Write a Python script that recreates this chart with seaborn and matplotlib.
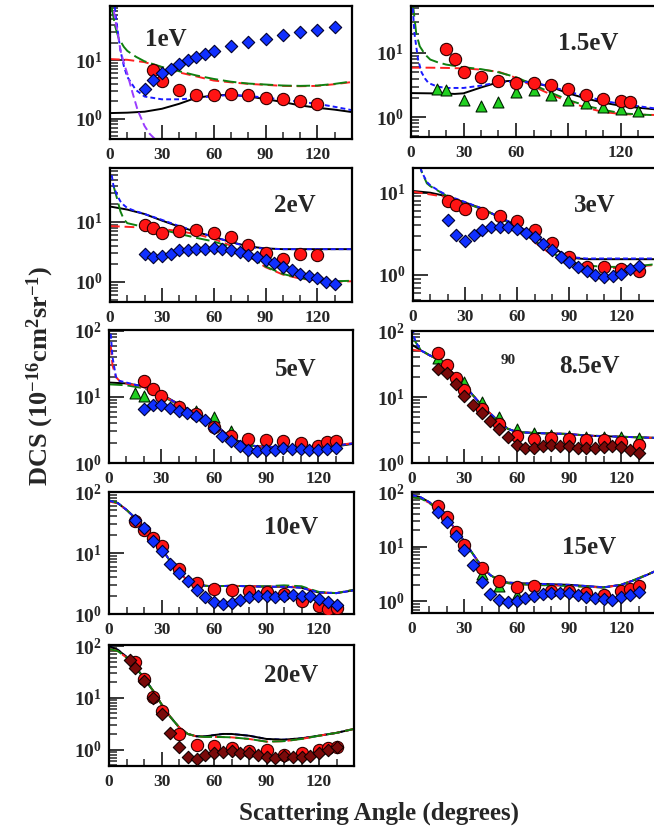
import numpy as np
import pandas as pd
import matplotlib
matplotlib.use("Agg")
import matplotlib.pyplot as plt
import seaborn as sns
from matplotlib.ticker import LogLocator, FixedLocator, MultipleLocator, FuncFormatter, NullFormatter

# ---------------- data (degrees, 1e-16 cm^2 sr^-1) ----------------
# 1 eV
e1_circ_x = [25, 30, 40, 50, 60, 70, 80, 90, 100, 110, 120]
e1_circ_y = [6.9, 4.4, 3.06, 2.58, 2.51, 2.68, 2.51, 2.29, 2.14, 2.01, 1.81]
e1_dia_x = [20, 25, 30, 35, 40, 45, 50, 55, 60, 70, 80, 90, 100, 110, 120, 130]
e1_dia_y = [3.27, 4.54, 6.06, 7.2, 8.77, 10.0, 11.4, 13.0, 14.5, 17.4, 20.6, 23.5, 26.8, 30.2, 33.6, 37.3]
e1_black_x = [0, 10, 20, 30, 40, 50, 60, 70, 80, 90, 100, 110, 120, 130, 140]
e1_black_y = [1.25, 1.27, 1.32, 1.48, 1.8, 2.29, 2.5, 2.58, 2.4, 2.17, 1.93, 1.69, 1.54, 1.43, 1.3]
e1_blue_x = [2, 3, 4, 6, 8, 10, 15, 20, 30, 40, 50, 60, 70, 80, 90, 100, 110, 120, 130, 140]
e1_blue_y = [150, 70, 40, 15, 8, 5.2, 3.1, 2.4, 2.15, 2.15, 2.25, 2.45, 2.55, 2.45, 2.3, 2.12, 1.95, 1.8, 1.6, 1.4]
e1_red_x = [0, 10, 20, 30, 40, 50, 60, 70, 80, 90, 100, 110, 120, 130, 140]
e1_red_y = [10.5, 10.2, 9.3, 7.6, 6.2, 5.3, 4.5, 4.2, 3.95, 3.8, 3.65, 3.6, 3.65, 3.9, 4.25]
e1_green_x = [1, 2, 3, 5, 8, 10, 15, 20, 30, 40, 50, 60, 70, 80, 90, 100, 110, 120, 130, 140]
e1_green_y = [80, 55, 38, 24, 17, 14.5, 11.5, 9.6, 7.7, 6.5, 5.5, 4.8, 4.3, 4.0, 3.85, 3.7, 3.65, 3.7, 3.95, 4.35]
e1_purple_x = [1, 2, 3, 4.5, 6, 8, 10, 13, 16, 20, 23, 27]
e1_purple_y = [200, 80, 50, 29, 15, 9, 5.9, 2.8, 1.4, 0.75, 0.55, 0.42]

# 1.5 eV
e15_circ_x = [20, 25, 30, 40, 50, 60, 70, 80, 90, 100, 110, 120, 125]
e15_circ_y = [11.7, 8.06, 5.05, 4.17, 3.7, 3.4, 3.4, 3.12, 2.74, 2.18, 1.91, 1.8, 1.71]
e15_tri_x = [15, 20, 30, 40, 50, 60, 70, 80, 90, 100, 110, 120, 130]
e15_tri_y = [2.74, 2.61, 1.87, 1.5, 1.74, 2.43, 2.61, 2.18, 1.87, 1.65, 1.43, 1.35, 1.23]
e15_black_x = [0, 10, 20, 25, 30, 40, 50, 55, 60, 65, 70, 80, 90, 100, 110, 120, 130, 140]
e15_black_y = [2.37, 2.35, 2.33, 2.3, 2.35, 2.9, 3.5, 3.65, 3.7, 3.6, 3.45, 2.95, 2.35, 1.95, 1.68, 1.5, 1.4, 1.32]
e15_blue_x = [1, 2, 4, 6, 8, 10, 15, 20, 30, 40, 50, 60, 70, 80, 90, 100, 110, 120, 130, 140]
e15_blue_y = [50, 20, 8, 5, 4, 3.4, 3.0, 2.85, 2.85, 3.1, 3.5, 3.6, 3.45, 3.0, 2.5, 2.1, 1.8, 1.6, 1.48, 1.36]
e15_red_x = [0, 10, 20, 30, 40, 50, 60, 70, 80, 90, 100, 110, 120, 130, 140]
e15_red_y = [5.9, 5.9, 5.85, 5.75, 5.5, 5.1, 4.1, 3.0, 2.25, 1.75, 1.4, 1.2, 1.12, 1.09, 1.08]
e15_green_x = [1, 2, 3, 5, 8, 11, 15, 20, 30, 40, 50, 60, 70, 80, 90, 100, 110, 120, 130, 140]
e15_green_y = [60, 35, 20, 12.7, 9.5, 7.9, 7.2, 6.6, 6.0, 5.6, 5.0, 4.2, 3.2, 2.4, 1.85, 1.5, 1.3, 1.15, 1.1, 1.07]

# 2 eV
e2_circ_x = [20, 25, 30, 40, 50, 60, 70, 80, 90, 100, 110, 120]
e2_circ_y = [9.0, 7.8, 6.6, 7.1, 7.2, 6.6, 5.5, 4.1, 3.0, 2.4, 2.9, 2.75]
e2_dia_x = [20, 25, 30, 35, 40, 45, 50, 55, 60, 65, 70, 75, 80, 85, 90, 95, 100, 105, 110, 115, 120, 125, 130]
e2_dia_y = [2.93, 2.58, 2.71, 2.93, 3.33, 3.41, 3.5, 3.5, 3.64, 3.55, 3.41, 3.08, 2.82, 2.58, 2.33, 2.05, 1.76, 1.59, 1.36, 1.23, 1.15, 1.01, 0.93]
e2_black_x = [0, 10, 20, 30, 40, 50, 60, 70, 80, 90, 100, 120, 140]
e2_black_y = [18, 16, 13.5, 10.5, 8.3, 6.8, 5.6, 4.6, 3.9, 3.6, 3.5, 3.5, 3.5]
e2_blue_x = [1, 2, 4, 6, 8, 10, 15, 20, 30, 40, 50, 60, 70, 80, 90, 100, 120, 140]
e2_blue_y = [60, 40, 28, 22, 19, 17, 15, 13.5, 10.8, 8.5, 6.9, 5.6, 4.6, 3.8, 3.55, 3.5, 3.5, 3.5]
e2_red_x = [0, 20, 30, 40, 50, 60, 70, 80, 90, 100, 110, 120, 130, 140]
e2_red_y = [8.5, 8.0, 7.6, 7.0, 6.2, 5.2, 4.0, 2.7, 1.75, 1.32, 1.13, 1.05, 1.0, 1.02]
e2_green_x = [2, 4, 6, 8, 10, 15, 20, 30, 40, 50, 60, 70, 80, 90, 100, 110, 120, 130, 140]
e2_green_y = [40, 25, 15, 11, 9.5, 8.8, 8.3, 7.4, 6.3, 5.4, 4.7, 3.8, 2.7, 1.8, 1.35, 1.15, 1.05, 1.02, 1.04]

# 3 eV
e3_circ_x = [20, 25, 30, 40, 50, 60, 70, 80, 90, 100, 110, 120, 130]
e3_circ_y = [7.84, 7.14, 6.38, 5.65, 5.24, 4.56, 3.47, 2.43, 1.63, 1.24, 1.24, 1.17, 1.12]
e3_dia_x = [20, 25, 30, 35, 40, 45, 50, 55, 60, 65, 70, 75, 80, 85, 90, 95, 100, 105, 110, 115, 120, 125, 130]
e3_dia_y = [4.69, 3.02, 2.55, 3.07, 3.47, 3.81, 3.78, 3.81, 3.64, 3.22, 2.88, 2.37, 2.02, 1.67, 1.45, 1.23, 1.1, 1.0, 0.95, 0.97, 1.03, 1.17, 1.29]
e3_black_x = [0, 10, 20, 30, 40, 50, 60, 70, 80, 90, 100, 120, 140]
e3_black_y = [10.5, 10, 9, 7.6, 6.4, 5.0, 4.0, 3.0, 2.2, 1.62, 1.55, 1.55, 1.55]
e3_blue_x = [3, 5, 8, 10, 15, 20, 30, 40, 50, 60, 70, 80, 90, 100, 120, 140]
e3_blue_y = [25, 18, 13.5, 12.3, 10.5, 9.2, 7.7, 6.4, 5.0, 4.0, 3.0, 2.2, 1.65, 1.58, 1.58, 1.58]
e3_red_x = [0, 20, 30, 40, 50, 60, 70, 80, 90, 100, 110, 120, 130, 140]
e3_red_y = [10.3, 8.8, 7.5, 6.3, 5.0, 3.6, 2.5, 1.75, 1.4, 1.22, 1.2, 1.22, 1.27, 1.32]
e3_green_x = [3, 5, 8, 10, 20, 30, 40, 50, 60, 70, 80, 90, 100, 110, 120, 130, 140]
e3_green_y = [25, 18, 13, 12, 9, 7.5, 6.3, 5.0, 3.7, 2.6, 1.85, 1.45, 1.3, 1.25, 1.25, 1.28, 1.35]

# 5 eV
e5_circ_x = [20, 25, 30, 40, 50, 60, 70, 80, 90, 100, 110, 120, 125, 130]
e5_circ_y = [17.4, 13.0, 10.4, 7.08, 5.6, 3.55, 2.6, 2.32, 2.26, 2.14, 2.02, 1.84, 2.11, 2.19]
e5_tri_x = [15, 20, 40, 50, 60, 70]
e5_tri_y = [11.6, 10.4, 7.2, 6.17, 4.9, 3.09]
e5_dia_x = [20, 25, 30, 35, 40, 45, 50, 55, 60, 65, 70, 75, 80, 85, 90, 95, 100, 105, 110, 115, 120, 125, 130]
e5_dia_y = [6.53, 7.5, 7.5, 6.76, 6.17, 5.62, 5.19, 4.47, 3.35, 2.6, 2.14, 1.78, 1.6, 1.51, 1.6, 1.6, 1.68, 1.64, 1.64, 1.58, 1.58, 1.64, 1.7]
e5_black_x = [0, 10, 20, 30, 40, 50, 60, 70, 80, 90, 100, 110, 120, 130, 140]
e5_black_y = [16.5, 16, 14.5, 11, 7.8, 5.6, 4.0, 2.4, 1.85, 1.75, 1.75, 1.72, 1.7, 1.78, 1.95]
e5_red_x = [1, 2, 4, 6, 10, 20, 30, 40, 50, 60, 70, 80, 90, 100, 110, 120, 130, 140]
e5_red_y = [60, 30, 20, 17.5, 16, 14, 10.8, 7.7, 5.5, 3.9, 2.4, 1.85, 1.75, 1.75, 1.72, 1.72, 1.85, 2.0]
e5_blue_x = [1, 2, 4, 6, 10, 20, 30, 40, 50, 60, 70, 80, 90, 100, 110, 120, 130, 140]
e5_blue_y = [90, 40, 20, 17.5, 16.5, 14.2, 10.9, 7.7, 5.5, 3.9, 2.4, 1.85, 1.75, 1.75, 1.72, 1.72, 1.83, 1.98]
e5_green_x = [0, 10, 20, 30, 40, 50, 60, 70, 80, 90, 100, 110, 120, 130, 140]
e5_green_y = [15.5, 15, 13.5, 10.5, 7.5, 5.4, 3.9, 2.4, 1.85, 1.75, 1.75, 1.72, 1.72, 1.82, 1.98]

# 8.5 eV
e85_circ_x = [15, 20, 25, 30, 40, 50, 60, 70, 80, 90, 100, 110, 120, 130]
e85_circ_y = [47, 31, 19.6, 12.9, 6.65, 3.95, 2.54, 2.34, 2.42, 2.34, 2.2, 2.2, 2.08, 1.9]
e85_tri_x = [15, 30, 40, 50, 60, 70, 80, 90, 100, 110, 120, 130]
e85_tri_y = [39, 16.9, 8.4, 4.98, 3.31, 2.8, 2.7, 2.6, 2.5, 2.5, 2.45, 2.42]
e85_dia_x = [15, 20, 25, 30, 35, 40, 45, 50, 55, 60, 65, 70, 75, 80, 85, 90, 95, 100, 105, 110, 115, 120, 125, 130]
e85_dia_y = [26.9, 23.1, 15.9, 10.2, 7.48, 5.72, 4.33, 3.31, 2.48, 1.9, 1.69, 1.69, 1.79, 1.85, 1.81, 1.81, 1.71, 1.71, 1.71, 1.75, 1.79, 1.75, 1.59, 1.43]
e85_black_x = [0, 5, 10, 15, 20, 25, 30, 35, 40, 45, 50, 55, 60, 70, 80, 90, 100, 110, 120, 130, 140]
e85_black_y = [62, 51, 43, 37, 28.5, 21, 15, 10.6, 7.5, 5.6, 4.2, 3.3, 2.95, 2.85, 2.8, 2.75, 2.6, 2.55, 2.5, 2.45, 2.4]
e85_blue_x = [0.5, 1, 2, 5, 10, 15, 20, 25, 30, 35, 40, 45, 50, 55, 60, 70, 80, 90, 100, 110, 120, 130, 140]
e85_blue_y = [110, 85, 70, 51, 43, 37, 28.5, 21, 15, 10.6, 7.5, 5.6, 4.2, 3.3, 2.95, 2.85, 2.8, 2.75, 2.6, 2.55, 2.5, 2.45, 2.4]
e85_red_x = [0, 5, 10, 15, 20, 25, 30, 35, 40, 45, 50, 55, 60, 70, 80, 90, 100, 110, 120, 130, 140]
e85_red_y = [52, 50, 43, 37, 28.5, 21, 15, 10.6, 7.5, 5.6, 4.2, 3.3, 2.95, 2.85, 2.8, 2.75, 2.6, 2.55, 2.5, 2.45, 2.4]
e85_green_x = [1, 2, 5, 10, 15, 20, 25, 30, 35, 40, 45, 50, 55, 60, 70, 80, 90, 100, 110, 120, 130, 140]
e85_green_y = [80, 68, 52, 43, 37, 28.5, 21, 15, 10.6, 7.5, 5.6, 4.2, 3.3, 2.95, 2.85, 2.8, 2.75, 2.62, 2.56, 2.5, 2.45, 2.4]

# 10 eV
e10_circ_x = [15, 20, 25, 30, 40, 50, 60, 70, 80, 90, 100, 110, 120, 125, 130]
e10_circ_y = [33.9, 23.5, 17.6, 12.8, 5.5, 3.22, 2.57, 2.44, 2.35, 2.3, 2.15, 1.65, 1.34, 1.22, 1.25]
e10_dia_x = [15, 20, 25, 30, 35, 40, 45, 50, 55, 60, 65, 70, 75, 80, 85, 90, 95, 100, 105, 110, 115, 120, 125, 130]
e10_dia_y = [35, 25.7, 15.9, 10.6, 6.68, 4.7, 3.43, 2.5, 1.88, 1.57, 1.46, 1.51, 1.72, 1.88, 1.95, 1.95, 1.9, 2.0, 2.02, 2.0, 2.0, 1.76, 1.57, 1.42]
e10_black_x = [0, 5, 10, 15, 20, 25, 30, 35, 40, 45, 50, 55, 60, 70, 80, 90, 100, 110, 115, 120, 130, 140]
e10_black_y = [72, 66, 51, 37.5, 26, 17.6, 12, 7.3, 5.0, 3.43, 3.1, 2.9, 2.85, 2.9, 2.85, 2.8, 2.8, 2.7, 2.45, 2.25, 2.2, 2.45]
e10_red_y = [70, 65, 51, 37.5, 26, 17.6, 12, 7.3, 5.0, 3.43, 3.1, 2.9, 2.85, 2.9, 2.85, 2.82, 2.85, 2.75, 2.5, 2.25, 2.2, 2.5]
e10_green_y = [73, 66, 51, 37.5, 26, 17.6, 12, 7.3, 5.0, 3.43, 3.1, 2.9, 2.85, 2.9, 2.85, 2.85, 2.95, 2.85, 2.55, 2.3, 2.2, 2.5]

# 15 eV
e15h_circ_x = [15, 20, 25, 30, 40, 50, 60, 70, 80, 90, 100, 110, 120, 125, 130]
e15h_circ_y = [56, 34.2, 18.9, 10.7, 4.1, 2.33, 1.81, 1.89, 1.57, 1.53, 1.42, 1.33, 1.57, 1.71, 1.89]
e15h_tri_x = [40, 50, 60]
e15h_tri_y = [3.18, 1.89, 1.33]
e15h_dia_x = [15, 20, 25, 30, 35, 40, 45, 50, 55, 60, 65, 70, 75, 80, 85, 90, 95, 100, 105, 110, 115, 120, 125, 130]
e15h_dia_y = [42.3, 28.8, 15.7, 8.7, 4.6, 2.24, 1.38, 1.04, 0.97, 1.0, 1.15, 1.24, 1.36, 1.42, 1.42, 1.42, 1.33, 1.2, 1.15, 1.12, 1.07, 1.18, 1.33, 1.49]
e15h_black_x = [0, 5, 10, 15, 20, 25, 30, 35, 40, 45, 50, 55, 60, 70, 80, 90, 100, 110, 120, 130, 140]
e15h_black_y = [88, 80, 65, 48, 32, 21, 12.5, 7.3, 4.3, 3.0, 2.45, 2.2, 2.15, 2.1, 2.05, 2.0, 1.9, 1.8, 2.0, 2.6, 3.6]
e15h_red_y = [80, 76, 63, 47, 32, 21, 12.5, 7.3, 4.3, 3.0, 2.4, 2.15, 2.05, 2.0, 1.95, 1.9, 1.85, 1.78, 2.0, 2.65, 3.6]

# 20 eV
e20_circ_x = [15, 20, 25, 30, 40, 50, 60, 70, 80, 90, 100, 110, 120, 125, 130]
e20_circ_y = [49, 22.6, 10.5, 5.5, 2.01, 1.25, 1.16, 1.08, 0.93, 0.99, 0.8, 0.86, 1.0, 1.08, 1.13]
e20_dia_x = [12, 15, 20, 25, 30, 35, 40, 45, 50, 55, 60, 65, 70, 75, 80, 85, 90, 95, 100, 105, 110, 115, 120, 125, 130]
e20_dia_y = [53.6, 38, 21, 10, 4.76, 2.1, 1.13, 0.72, 0.67, 0.77, 0.86, 0.89, 0.93, 0.86, 0.84, 0.77, 0.72, 0.69, 0.74, 0.72, 0.72, 0.74, 0.86, 0.97, 1.13]
e20_black_x = [0, 5, 10, 15, 20, 25, 30, 35, 40, 45, 50, 55, 60, 65, 70, 80, 90, 100, 110, 120, 130, 140]
e20_black_y = [100, 85, 62, 40, 24, 14, 7.5, 4.3, 2.7, 2.0, 1.8, 1.8, 1.9, 2.0, 2.0, 1.85, 1.6, 1.55, 1.65, 1.85, 2.1, 2.5]
e20_red_y = [88, 80, 60, 40, 24, 14, 7.5, 4.3, 2.7, 2.0, 1.8, 1.75, 1.75, 1.74, 1.72, 1.6, 1.42, 1.45, 1.6, 1.85, 2.1, 2.5]

panel_labels = ["1eV", "1.5eV", "2eV", "3eV", "5eV", "8.5eV", "10eV", "15eV", "20eV"]
xtick_vals = [0, 30, 60, 90, 120]
xtick_vals_15 = [0, 30, 60, 120]

# ---------------- style ----------------
sns.set_theme(style="ticks")
plt.rcParams["font.family"] = ["Liberation Serif", "DejaVu Serif"]
plt.rcParams["font.weight"] = "bold"
plt.rcParams["mathtext.fontset"] = "custom"
plt.rcParams["mathtext.rm"] = "Liberation Serif:bold"
plt.rcParams["mathtext.it"] = "Liberation Serif:bold:italic"
plt.rcParams["mathtext.bf"] = "Liberation Serif:bold"
plt.rcParams["mathtext.default"] = "rm"

W, H = 654, 830
fig = plt.figure(figsize=(W / 100, H / 100), dpi=100)
fig.patch.set_facecolor("white")

C_RED = "#ff1414"
C_BLUE = "#1030ff"
C_GREEN = "#20d020"
C_DRED = "#7a0a0a"
L_RED = "#ff2020"
L_GREEN = "#108010"
L_BLUE = "#1a1aff"
L_PURPLE = "#9a3cff"
LW = 1.4


def add_ax(x0, x1, y0, y1):
    return fig.add_axes([x0 / W, 1 - y1 / H, (x1 - x0) / W, (y1 - y0) / H])


def line(ax, x, y, color, ls):
    sns.lineplot(x=x, y=y, ax=ax, color=color, linewidth=LW, linestyle=ls,
                 errorbar=None, sort=False, zorder=2, legend=False)


def pts(ax, x, y, kind):
    if kind == "o":
        sns.scatterplot(x=x, y=y, ax=ax, marker="o", s=78, color=C_RED,
                        edgecolor="#300000", linewidth=0.8, zorder=4, legend=False)
    elif kind == "^":
        sns.scatterplot(x=x, y=y, ax=ax, marker="^", s=62, color=C_GREEN,
                        edgecolor="#002000", linewidth=0.8, zorder=3, legend=False)
    elif kind == "D":
        sns.scatterplot(x=x, y=y, ax=ax, marker="D", s=40, color=C_BLUE,
                        edgecolor="#000030", linewidth=0.8, zorder=5, legend=False)
    elif kind == "d":
        sns.scatterplot(x=x, y=y, ax=ax, marker="D", s=40, color=C_DRED,
                        edgecolor="#100000", linewidth=0.8, zorder=5, legend=False)


SOLID = "-"
RED_LS = (0, (5, 2.5))
GREEN_LS = (0, (7, 2.5))
BLUE_LS = (0, (2.5, 1.6))
PURPLE_LS = (0, (4, 2))


def style_ax(ax, ylim, xt):
    ax.set_yscale("log")
    ax.set_xlim(0, 140)
    ax.set_ylim(*ylim)
    ax.xaxis.set_minor_locator(MultipleLocator(10))
    ax.set_xticks(xtick_vals)
    ax.set_xticklabels([str(v) if v in xt else "" for v in xtick_vals])
    ax.yaxis.set_major_locator(LogLocator(base=10, numticks=10))
    ax.yaxis.set_minor_locator(LogLocator(base=10, subs=np.arange(2, 10), numticks=20))
    ax.yaxis.set_major_formatter(FuncFormatter(lambda v, p: r"$10^{%d}$" % int(round(np.log10(v)))))
    ax.yaxis.set_minor_formatter(NullFormatter())
    ax.tick_params(axis="x", which="major", direction="in", length=10, width=1.3,
                   labelsize=12.5, pad=6, top=False, bottom=True)
    ax.tick_params(axis="x", which="minor", direction="in", length=5, width=1.1,
                   top=False, bottom=True)
    ax.tick_params(axis="y", which="major", direction="in", length=11, width=1.3,
                   labelsize=14, pad=5, right=False, left=True)
    ax.tick_params(axis="y", which="minor", direction="in", length=5.5, width=1.1,
                   right=False, left=True)
    for lab in ax.get_xticklabels() + ax.get_yticklabels():
        lab.set_fontweight("bold")
    for sp in ax.spines.values():
        sp.set_linewidth(1.6)
        sp.set_color("black")
    ax.set_xlabel("")
    ax.set_ylabel("")
    ax.set_facecolor("white")


def panel_label(cx, cy, text):
    fig.text(cx / W, 1 - cy / H, text, ha="center", va="center", fontsize=18, fontweight="bold")


# ---- 1 eV ----
ax = add_ax(110, 352, 6, 139)
ax.set_yscale("log")
line(ax, e1_black_x, e1_black_y, "black", SOLID)
line(ax, e1_red_x, e1_red_y, L_RED, RED_LS)
line(ax, e1_green_x, e1_green_y, L_GREEN, GREEN_LS)
line(ax, e1_blue_x, e1_blue_y, L_BLUE, BLUE_LS)
line(ax, e1_purple_x, e1_purple_y, L_PURPLE, PURPLE_LS)
pts(ax, e1_circ_x, e1_circ_y, "o")
pts(ax, e1_dia_x, e1_dia_y, "D")
style_ax(ax, (0.45, 85), xtick_vals)
panel_label(166, 39, panel_labels[0])

# ---- 1.5 eV ----
ax = add_ax(411, 656, 6, 137)
ax.set_yscale("log")
line(ax, e15_black_x, e15_black_y, "black", SOLID)
line(ax, e15_red_x, e15_red_y, L_RED, RED_LS)
line(ax, e15_green_x, e15_green_y, L_GREEN, GREEN_LS)
line(ax, e15_blue_x, e15_blue_y, L_BLUE, BLUE_LS)
pts(ax, e15_tri_x, e15_tri_y, "^")
pts(ax, e15_circ_x, e15_circ_y, "o")
style_ax(ax, (0.49, 54), xtick_vals_15)
panel_label(588, 44, panel_labels[1])

# ---- 2 eV ----
ax = add_ax(110, 352, 168, 302)
ax.set_yscale("log")
line(ax, e2_black_x, e2_black_y, "black", SOLID)
line(ax, e2_red_x, e2_red_y, L_RED, RED_LS)
line(ax, e2_green_x, e2_green_y, L_GREEN, GREEN_LS)
line(ax, e2_blue_x, e2_blue_y, L_BLUE, BLUE_LS)
pts(ax, e2_circ_x, e2_circ_y, "o")
pts(ax, e2_dia_x, e2_dia_y, "D")
style_ax(ax, (0.46, 79), xtick_vals)
panel_label(295, 205, panel_labels[2])

# ---- 3 eV ----
ax = add_ax(413, 656, 168, 301)
ax.set_yscale("log")
line(ax, e3_black_x, e3_black_y, "black", SOLID)
line(ax, e3_red_x, e3_red_y, L_RED, RED_LS)
line(ax, e3_green_x, e3_green_y, L_GREEN, GREEN_LS)
line(ax, e3_blue_x, e3_blue_y, L_BLUE, BLUE_LS)
pts(ax, e3_circ_x, e3_circ_y, "o")
pts(ax, e3_dia_x, e3_dia_y, "D")
style_ax(ax, (0.48, 20), xtick_vals)
panel_label(595, 206, panel_labels[3])

# ---- 5 eV ----
ax = add_ax(109, 353, 330, 463)
ax.set_yscale("log")
line(ax, e5_black_x, e5_black_y, "black", SOLID)
line(ax, e5_green_x, e5_green_y, L_GREEN, GREEN_LS)
line(ax, e5_red_x, e5_red_y, L_RED, RED_LS)
line(ax, e5_blue_x, e5_blue_y, L_BLUE, BLUE_LS)
pts(ax, e5_tri_x, e5_tri_y, "^")
pts(ax, e5_circ_x, e5_circ_y, "o")
pts(ax, e5_dia_x, e5_dia_y, "D")
style_ax(ax, (1.0, 103), xtick_vals)
panel_label(296, 369, panel_labels[4])

# ---- 8.5 eV ----
ax = add_ax(412, 656, 331, 463)
ax.set_yscale("log")
line(ax, e85_black_x, e85_black_y, "black", SOLID)
line(ax, e85_red_x, e85_red_y, L_RED, RED_LS)
line(ax, e85_green_x, e85_green_y, L_GREEN, GREEN_LS)
line(ax, e85_blue_x, e85_blue_y, L_BLUE, BLUE_LS)
pts(ax, e85_tri_x, e85_tri_y, "^")
pts(ax, e85_circ_x, e85_circ_y, "o")
pts(ax, e85_dia_x, e85_dia_y, "d")
style_ax(ax, (1.0, 100), xtick_vals)
panel_label(589, 366, panel_labels[5])
fig.text(508 / W, 1 - 360 / H, "90", ha="center", va="center", fontsize=11, fontweight="bold")

# ---- 10 eV ----
ax = add_ax(109, 354, 492, 614)
ax.set_yscale("log")
line(ax, e10_black_x, e10_black_y, "black", SOLID)
line(ax, e10_black_x, e10_red_y, L_RED, RED_LS)
line(ax, e10_black_x, e10_green_y, L_GREEN, GREEN_LS)
line(ax, e10_black_x, e10_black_y, L_BLUE, BLUE_LS)
pts(ax, e10_circ_x, e10_circ_y, "o")
pts(ax, e10_dia_x, e10_dia_y, "D")
style_ax(ax, (1.0, 100), xtick_vals)
panel_label(291, 527, panel_labels[6])

# ---- 15 eV ----
ax = add_ax(412, 656, 492, 613)
ax.set_yscale("log")
line(ax, e15h_black_x, e15h_black_y, "black", SOLID)
line(ax, e15h_black_x, e15h_red_y, L_RED, RED_LS)
line(ax, e15h_black_x, e15h_red_y, L_GREEN, GREEN_LS)
line(ax, e15h_black_x, e15h_black_y, L_BLUE, BLUE_LS)
pts(ax, e15h_tri_x, e15h_tri_y, "^")
pts(ax, e15h_circ_x, e15h_circ_y, "o")
pts(ax, e15h_dia_x, e15h_dia_y, "D")
style_ax(ax, (0.61, 100), xtick_vals)
panel_label(589, 547, panel_labels[7])

# ---- 20 eV ----
ax = add_ax(109, 354, 645, 766)
ax.set_yscale("log")
line(ax, e20_black_x, e20_black_y, L_BLUE, BLUE_LS)
line(ax, e20_black_x, e20_black_y, "black", SOLID)
line(ax, e20_black_x, e20_red_y, L_RED, RED_LS)
line(ax, e20_black_x, e20_red_y, L_GREEN, GREEN_LS)
pts(ax, e20_circ_x, e20_circ_y, "o")
pts(ax, e20_dia_x, e20_dia_y, "d")
style_ax(ax, (0.48, 105), xtick_vals)
panel_label(291, 675, panel_labels[8])

# ---- axis titles ----
fig.text(40 / W, 1 - 376 / H, r"DCS (10$^{-16}$cm$^{2}$sr$^{-1}$)", rotation=90,
         ha="center", va="center", fontsize=19, fontweight="bold")
fig.text(379 / W, 1 - 820 / H, "Scattering Angle (degrees)", ha="center", va="baseline",
         fontsize=18, fontweight="bold")

fig.savefig("out.png", dpi=100, facecolor="white")
